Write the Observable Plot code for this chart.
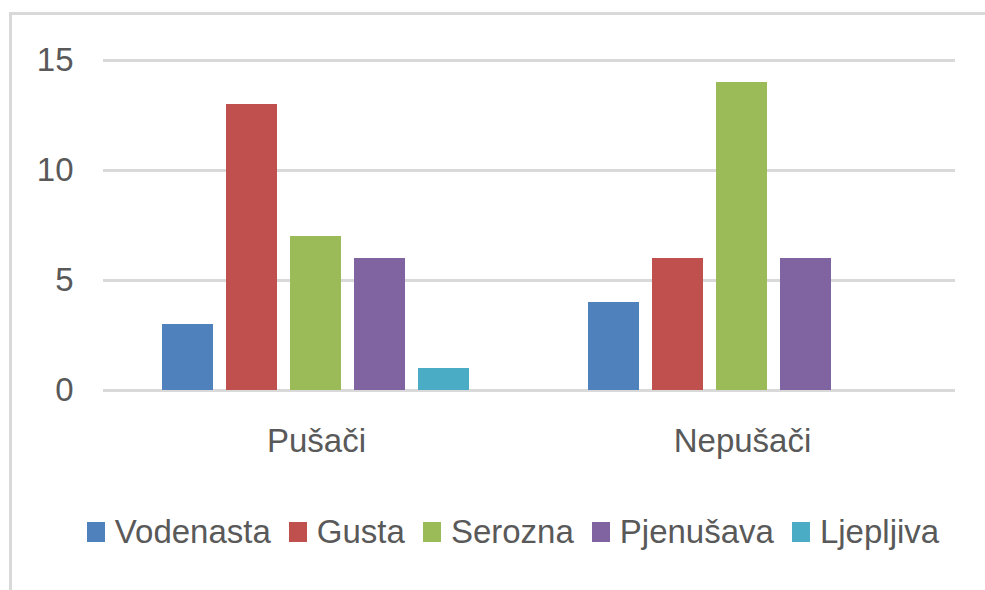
<!DOCTYPE html>
<html>
<head>
<meta charset="utf-8">
<script src="https://cdn.jsdelivr.net/npm/d3@7"></script>
<script src="https://cdn.jsdelivr.net/npm/@observablehq/plot@0.6"></script>
<style>
  html, body { margin: 0; padding: 0; background: #fff; overflow: hidden; }
  body { width: 985px; height: 590px; position: relative; }
  #frame { position: absolute; left: 9px; top: 12px; width: 1000px; height: 620px; border: 3px solid #d9d9d9; box-sizing: border-box; }
  #chart { position: absolute; left: 0; top: 0; }
  #legend { position: absolute; left: 0; top: 512px; width: 1026px; height: 40px; display: flex; align-items: center; justify-content: center; }
  div.lg-swatches { justify-content: center !important; font-size: 33px !important; font-family: "Liberation Sans", Arial, sans-serif !important; color: #595959 !important; margin: 0 !important; }
  div.lg-swatches .lg-swatch { margin-right: 18px !important; }
  div.lg-swatches .lg-swatch:last-child { margin-right: 0 !important; }
  div.lg-swatches .lg-swatch > svg { margin-right: 10px !important; }
</style>
</head>
<body>
<div id="frame"></div>
<div id="chart"></div>
<div id="legend"></div>
<script>
const groups = ["Pušači", "Nepušači"];
const types = ["Vodenasta", "Gusta", "Serozna", "Pjenušava", "Ljepljiva"];
const pusaci = [3, 13, 7, 6, 1];
const nepusaci = [4, 6, 14, 6, 0];
const colors = ["#4f81bd", "#c0504d", "#9bbb59", "#8064a2", "#4bacc6"];
const yTicks = [0, 5, 10, 15];

const seriesByGroup = [pusaci, nepusaci];
const data = [];
groups.forEach((g, gi) => types.forEach((t, ti) => data.push({group: g, type: t, value: seriesByGroup[gi][ti]})));

const font = '"Liberation Sans", Arial, sans-serif';

const chart = Plot.plot({
  width: 985,
  height: 470,
  marginLeft: 102,
  marginRight: 30,
  marginTop: 60,
  marginBottom: 80,
  style: {fontSize: "33px", fontFamily: font, color: "#595959", background: "transparent", overflow: "visible"},
  fx: {domain: groups, padding: 0, label: null, tickSize: 0, tickPadding: 38},
  x: {domain: types, paddingInner: 0.2, paddingOuter: 0.88, axis: null},
  y: {domain: [0, 15], ticks: yTicks, label: null, tickSize: 0, tickPadding: 30},
  color: {domain: types, range: colors},
  marks: [
    Plot.ruleY(yTicks, {stroke: "#d9d9d9", strokeWidth: 3}),
    Plot.barY(data, {fx: "group", x: "type", y: "value", fill: "type"})
  ]
});
document.getElementById("chart").appendChild(chart);

const legend = Plot.legend({
  color: {domain: types, range: colors},
  swatchWidth: 18,
  swatchHeight: 20,
  className: "lg"
});
document.getElementById("legend").appendChild(legend);
</script>
</body>
</html>
